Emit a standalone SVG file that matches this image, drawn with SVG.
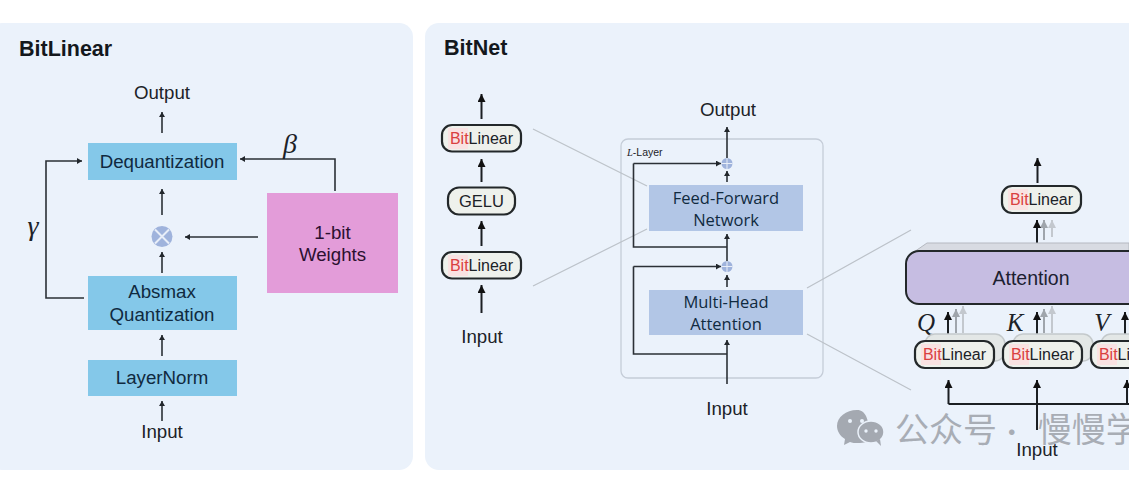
<svg xmlns="http://www.w3.org/2000/svg" width="1129" height="481" viewBox="0 0 1129 481">
<style>
text{font-family:"Liberation Sans",Arial,sans-serif;fill:#1c2228;text-anchor:middle}
.t{font-size:18.700px}
.h{font-size:21.500px;font-weight:bold;text-anchor:start;fill:#14181d}
.m{font-family:"Liberation Serif",serif;font-style:italic;font-size:28px}
.blue{fill:#84c8e9}.dark{fill:#102a40}
.navy{fill:#b2c6e6}
.pill{fill:#eef1ec;stroke:#23282a;stroke-width:2.200}
.bit{fill:#f9e2e2}
.c1{fill:none;stroke:#2b3036;stroke-width:1.600}
.c2{fill:none;stroke:#1b1f23;stroke-width:2}
.g1{fill:none;stroke:#9fa5ac;stroke-width:2}
.g2{fill:none;stroke:#c3c8ce;stroke-width:2}
.lead{fill:none;stroke:#bcc2c9;stroke-width:1.200}
.sh{fill:#e3e7e6;stroke:#c4c9cb;stroke-width:1.500}
</style>
<defs>
<marker id="a" markerUnits="userSpaceOnUse" markerWidth="7" markerHeight="7" refX="5" refY="3" orient="auto"><path d="M0 0L5 3L0 6z" fill="#22272c"/></marker>
<marker id="b" markerUnits="userSpaceOnUse" markerWidth="10" markerHeight="10" refX="8" refY="4" orient="auto"><path d="M0 0L8 4L0 8z" fill="#111"/></marker>
<marker id="b1" markerUnits="userSpaceOnUse" markerWidth="10" markerHeight="10" refX="8" refY="4" orient="auto"><path d="M0 0L8 4L0 8z" fill="#9fa5ac"/></marker>
<marker id="b2" markerUnits="userSpaceOnUse" markerWidth="10" markerHeight="10" refX="8" refY="4" orient="auto"><path d="M0 0L8 4L0 8z" fill="#c3c8ce"/></marker>
</defs>
<rect width="1129" height="481" fill="#fff"/>
<rect id="panel-bitlinear" x="-12" y="23" width="425" height="447" rx="14" fill="#ebf2fb"/>
<rect id="panel-bitnet" x="425" y="23" width="730" height="447" rx="14" fill="#ebf2fb"/>
<text class="h" x="19" y="56">BitLinear</text>
<text class="h" x="444" y="55">BitNet</text>

<rect id="layer-box" x="621" y="139" width="202" height="239" rx="7" fill="none" stroke="#c5cdd8" stroke-width="1.300"/>

<g id="connectors">
<path class="c1" marker-end="url(#a)" d="M162 133V112"/>
<path class="c1" marker-end="url(#a)" d="M162 215V189"/>
<path class="c1" marker-end="url(#a)" d="M162 273V252"/>
<path class="c1" marker-end="url(#a)" d="M162 356V335"/>
<path class="c1" marker-end="url(#a)" d="M162 421V401"/>
<path class="c1" marker-end="url(#a)" d="M84 298H46V161H82"/>
<path class="c1" marker-end="url(#a)" d="M335 191V159H240"/>
<path class="c1" marker-end="url(#a)" d="M258 237H185"/>
<path class="c2" marker-end="url(#b)" d="M481.500 119V94"/>
<path class="c2" marker-end="url(#b)" d="M481.500 182V159"/>
<path class="c2" marker-end="url(#b)" d="M481.500 246V221"/>
<path class="c2" marker-end="url(#b)" d="M481.500 313V285"/>
<path class="lead" d="M533 129L647 186M533 286L647 229M807 288L911 230M807 334L911 390"/>
<path class="c1" marker-end="url(#a)" d="M727 158V127"/>
<path class="c1" marker-end="url(#a)" d="M727 182V171"/>
<path class="c1" d="M727 247H633.500V163.500"/>
<path class="c1" marker-end="url(#a)" d="M633.500 163.500H721"/>
<path class="c1" marker-end="url(#a)" d="M727 262V234"/>
<path class="c1" marker-end="url(#a)" d="M727 287V275"/>
<path class="c1" d="M727 354H633.500V266.500"/>
<path class="c1" marker-end="url(#a)" d="M633.500 266.500H721"/>
<path class="c1" marker-end="url(#a)" d="M727 384V340"/>
<path class="g2" marker-end="url(#b2)" d="M1052 237V220"/>
<path class="g1" marker-end="url(#b1)" d="M1044 240V220"/>
<path class="c2" marker-end="url(#b)" d="M1037.500 183V158"/>
<path class="c2" marker-end="url(#b)" d="M1037 244V220"/>
<path class="g2" marker-end="url(#b2)" d="M963 333V306"/>
<path class="g1" marker-end="url(#b1)" d="M956 333V309"/>
<path class="c2" marker-end="url(#b)" d="M948 337V312"/>
<path class="g2" marker-end="url(#b2)" d="M1052 333V306"/>
<path class="g1" marker-end="url(#b1)" d="M1044 333V309"/>
<path class="c2" marker-end="url(#b)" d="M1037 337V312"/>
<path class="c2" marker-end="url(#b)" d="M1125 337V312"/>
<path class="c2" marker-end="url(#b)" d="M948.500 404V380"/>
<path class="c2" marker-end="url(#b)" d="M1037 430V380"/>
<path class="c2" marker-end="url(#b)" d="M1127 404V380"/>
<path class="c2" d="M948.500 404H1129"/>
</g>

<g id="dequant"><rect class="blue" x="88" y="143" width="149" height="37"/><text class="t dark" x="162" y="168">Dequantization</text></g>
<g id="absmax"><rect class="blue" x="88" y="276" width="149" height="54"/><text class="t dark" x="162" y="298">Absmax</text><text class="t dark" x="162" y="321">Quantization</text></g>
<g id="layernorm"><rect class="blue" x="88" y="360" width="149" height="36"/><text class="t dark" x="162" y="384">LayerNorm</text></g>
<g id="weights"><rect x="267" y="193" width="131" height="100" fill="#e39cd9"/><text class="t" x="332.500" y="239" style="fill:#2b1030">1-bit</text><text class="t" x="332.500" y="261" style="fill:#2b1030">Weights</text></g>
<g id="mult"><circle cx="162" cy="236.500" r="10.500" fill="#9fb3dc"/><path d="M155 229.500L169 243.500M169 229.500L155 243.500" stroke="#e8eef8" stroke-width="2"/></g>
<text class="t" x="162" y="99">Output</text>
<text class="t" x="162" y="438">Input</text>
<text class="m" x="290" y="153">β</text>
<text class="m" x="33" y="235">γ</text>

<g id="bl1"><rect class="pill" x="442" y="125" width="79" height="26.500" rx="10"/><rect class="bit" x="448" y="128" width="20" height="21"/><text x="481.500" y="144" font-size="16"><tspan style="fill:#d9403f">Bit</tspan>Linear</text></g>
<g id="gelu"><rect class="pill" x="448" y="187.500" width="67" height="27" rx="11"/><text x="481.500" y="207" font-size="16.500">GELU</text></g>
<g id="bl2"><rect class="pill" x="442" y="252" width="79" height="26.500" rx="10"/><rect class="bit" x="448" y="255" width="20" height="21"/><text x="481.500" y="271" font-size="16"><tspan style="fill:#d9403f">Bit</tspan>Linear</text></g>
<text class="t" x="482" y="343">Input</text>

<text class="t" x="728" y="116">Output</text>
<text class="t" x="727" y="415">Input</text>
<text x="627" y="156" font-size="10.500" style="text-anchor:start"><tspan font-family="Liberation Serif" font-style="italic">L</tspan>-Layer</text>
<g id="ffn"><rect class="navy" x="649" y="185" width="154" height="46"/><text x="726" y="204" font-size="16.500" class="dark" style="font-family:'Open Sans','Liberation Sans',sans-serif">Feed-Forward</text><text x="726" y="226" font-size="16.500" class="dark" style="font-family:'Open Sans','Liberation Sans',sans-serif">Network</text></g>
<g id="mha"><rect class="navy" x="649" y="290" width="154" height="45"/><text x="726" y="308" font-size="16.500" class="dark" style="font-family:'Open Sans','Liberation Sans',sans-serif">Multi-Head</text><text x="726" y="330" font-size="16.500" class="dark" style="font-family:'Open Sans','Liberation Sans',sans-serif">Attention</text></g>
<g id="add1"><circle cx="727" cy="163.500" r="5.500" fill="#9fb3dc"/><path d="M721.500 163.500H732.500M727 158V169" stroke="#e8eef8" stroke-width="1"/></g>
<g id="add2"><circle cx="727" cy="266.500" r="5.500" fill="#9fb3dc"/><path d="M721.500 266.500H732.500M727 261V272" stroke="#e8eef8" stroke-width="1"/></g>

<g id="bl3"><rect class="pill" x="1002" y="186" width="79" height="27" rx="10"/><rect class="bit" x="1008" y="189" width="20" height="21"/><text x="1041.500" y="205" font-size="16"><tspan style="fill:#d9403f">Bit</tspan>Linear</text></g>
<g id="attention">
<path d="M927 243H1129V252H914z" fill="#d8dbe2" stroke="#b5b9c0"/>
<rect x="906" y="251" width="260" height="53" rx="13" fill="#c6bde2" stroke="#23282a" stroke-width="2"/>
<text x="1031" y="285" font-size="19.500" style="fill:#1c2030">Attention</text>
</g>
<text class="m" x="926" y="331" style="font-size:25px">Q</text>
<text class="m" x="1015" y="331" style="font-size:25px">K</text>
<text class="m" x="1102" y="331" style="font-size:25px">V</text>
<g id="blq"><rect class="sh" x="925" y="334" width="80" height="27" rx="10"/><rect class="pill" x="915" y="341" width="79" height="27" rx="10"/><rect class="bit" x="921" y="344" width="20" height="21"/><text x="954.500" y="360" font-size="16"><tspan style="fill:#d9403f">Bit</tspan>Linear</text></g>
<g id="blk"><rect class="sh" x="1013" y="334" width="80" height="27" rx="10"/><rect class="pill" x="1003" y="341" width="79" height="27" rx="10"/><rect class="bit" x="1009" y="344" width="20" height="21"/><text x="1042.500" y="360" font-size="16"><tspan style="fill:#d9403f">Bit</tspan>Linear</text></g>
<g id="blv"><rect class="sh" x="1101" y="334" width="80" height="27" rx="10"/><rect class="pill" x="1091" y="341" width="79" height="27" rx="10"/><rect class="bit" x="1097" y="344" width="20" height="21"/><text x="1130.500" y="360" font-size="16"><tspan style="fill:#d9403f">Bit</tspan>Linear</text></g>
<text class="t" x="1037" y="456">Input</text>

<g id="watermark">
<path d="M857 410c-11 0-20 7-20 16 0 5 3 10 8 13l-1 6 6-3c2 1 5 1 8 1 6 0 11 0 11-9 0-14-3-24-12-24z" fill="#a4a9b1"/>
<ellipse cx="871" cy="432" rx="13" ry="11" fill="#a4a9b1" stroke="#ebf2fb" stroke-width="1.500"/>
<path d="M876 441l5 5-1-7z" fill="#a4a9b1"/>
<circle cx="850" cy="421" r="2" fill="#ebf2fb"/><circle cx="862" cy="421" r="2" fill="#ebf2fb"/><circle cx="866" cy="431" r="1.700" fill="#ebf2fb"/><circle cx="876" cy="431" r="1.700" fill="#ebf2fb"/>
<text x="895" y="442" font-size="34" style="text-anchor:start;fill:#a8adb5;font-family:'Noto Sans CJK SC',sans-serif">公众号<tspan dx="-4" font-size="26"> · </tspan><tspan dx="7">慢慢学</tspan></text>
</g>
</svg>
